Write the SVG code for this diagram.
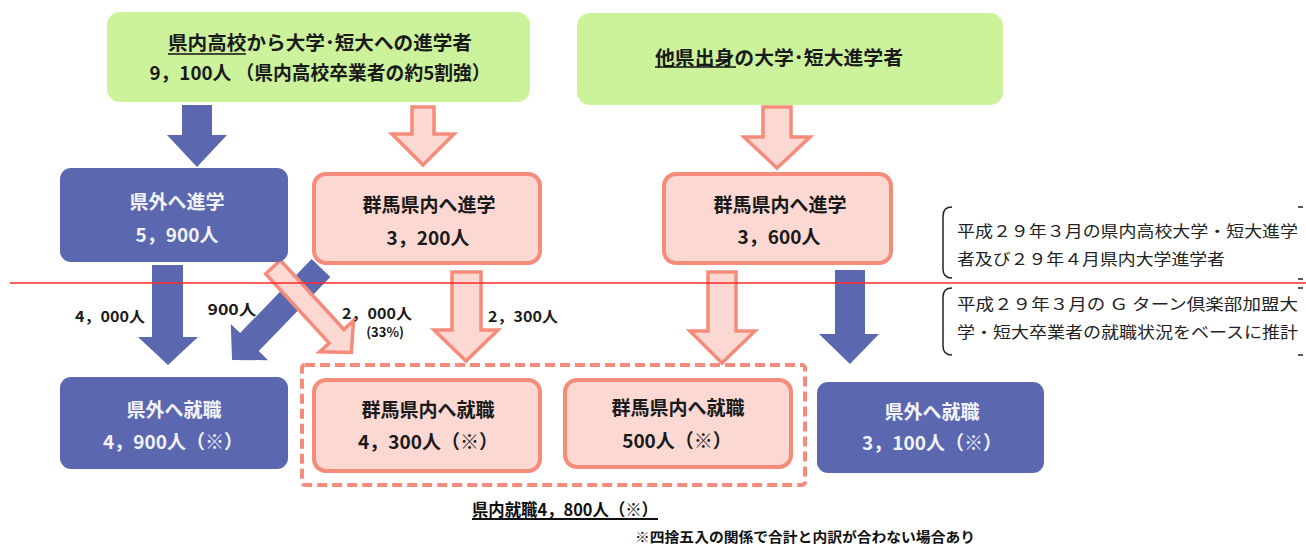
<svg xmlns="http://www.w3.org/2000/svg" width="1306" height="546" viewBox="0 0 1306 546">
<style>
text{font-family:"Noto Sans CJK JP","Noto Sans",sans-serif;}
.g{fill:#CCF29B;}
.b{fill:#5B68B0;}
.p{fill:#FCD8D2;stroke:#F58C7B;stroke-width:4;}
.pa{fill:#FCD8D2;stroke:#F58C7B;stroke-width:3.5;stroke-linejoin:miter;}
.t{font-size:19px;font-weight:bold;fill:#1A1A1A;text-anchor:middle;}
.w{font-size:19px;font-weight:bold;fill:#F2F2FA;text-anchor:middle;}
.l{font-size:15px;font-weight:bold;fill:#1A1A1A;text-anchor:middle;}
.n{font-size:15.5px;fill:#222;}
.ul{stroke:#111;stroke-width:1.6;}
.br{fill:none;stroke:#222;stroke-width:1.5;}
</style>
<rect width="1306" height="546" fill="#FFFFFF"/>
<g id="connectors">
  <path class="b" d="M182,105 H212 V135 H227 L197,167 L167,135 H182 Z"/>
  <path class="pa" d="M412,107 H434 V134 H454 L423,165 L392,134 H412 Z"/>
  <path class="pa" d="M763,107 H791 V137 H810 L777,168 L744,137 H763 Z"/>
  <path class="b" d="M152,265 H183 V337 H198 L168,365 L138,337 H152 Z"/>
  <path class="b" transform="translate(321,268) rotate(134)" d="M0,-13 H103 V-26 L128,0 L103,26 V13 H0 Z"/>
  <path class="pa" transform="translate(273,267) rotate(47.5)" d="M0,-10 H94 V-23 L116,0 L94,23 V10 H0 Z"/>
  <path class="pa" d="M452,272 H481 V330 H498 L466,361 L434,330 H452 Z"/>
  <path class="pa" d="M708,272 H736 V331 H755 L722,363 L690,331 H708 Z"/>
  <path class="b" d="M835,270 H865 V334 H879 L850,364 L819,334 H835 Z"/>
  <text class="l" x="110" y="322" textLength="70" lengthAdjust="spacingAndGlyphs">4，000人</text>
  <text class="l" x="232" y="315" textLength="49" lengthAdjust="spacingAndGlyphs">900人</text>
  <text class="l" x="377" y="319" textLength="70" lengthAdjust="spacingAndGlyphs">2，000人</text>
  <text class="l" x="385" y="337" style="font-size:13px">(33%)</text>
  <text class="l" x="523" y="322" textLength="70" lengthAdjust="spacingAndGlyphs">2，300人</text>
</g>
<g id="node-top-left">
  <rect class="g" x="107" y="12" width="423" height="90" rx="13"/>
  <text class="t" x="320" y="50" textLength="304" lengthAdjust="spacingAndGlyphs">県内高校から大学･短大への進学者</text>
  <line class="ul" x1="168" y1="54" x2="246" y2="54"/>
  <text class="t" x="320" y="80" textLength="341" lengthAdjust="spacingAndGlyphs">9，100人 （県内高校卒業者の約5割強）</text>
</g>
<g id="node-top-right">
  <rect class="g" x="577" y="13" width="426" height="92" rx="13"/>
  <text class="t" x="779" y="65" textLength="248" lengthAdjust="spacingAndGlyphs">他県出身の大学･短大進学者</text>
  <line class="ul" x1="655" y1="67" x2="736" y2="67"/>
</g>
<g id="node-out-study">
  <rect class="b" x="60" y="168" width="228" height="94" rx="11"/>
  <text class="w" x="177" y="209">県外へ進学</text>
  <text class="w" x="177" y="242">5，900人</text>
</g>
<g id="node-in-study-1">
  <rect class="p" x="314" y="174" width="226" height="89" rx="12"/>
  <text class="t" x="429" y="212">群馬県内へ進学</text>
  <text class="t" x="428" y="245">3，200人</text>
</g>
<g id="node-in-study-2">
  <rect class="p" x="664" y="174" width="227" height="89" rx="12"/>
  <text class="t" x="780" y="212">群馬県内へ進学</text>
  <text class="t" x="779" y="244">3，600人</text>
</g>
<g id="node-in-job-group">
  <rect x="302" y="365" width="503" height="120" rx="3" fill="none" stroke="#F58C7B" stroke-width="4" stroke-dasharray="10 5"/>
  <text x="565" y="516" style="font-size:17px;font-weight:bold;fill:#111;text-anchor:middle" textLength="186" lengthAdjust="spacingAndGlyphs">県内就職4，800人（※）</text>
  <line class="ul" x1="472" y1="519" x2="658" y2="519" style="stroke-width:2"/>
</g>
<g id="node-out-job-1">
  <rect class="b" x="60" y="377" width="228" height="92" rx="11"/>
  <text class="w" x="174" y="417">県外へ就職</text>
  <text class="w" x="173" y="449">4，900人（※）</text>
</g>
<g id="node-in-job-1">
  <rect class="p" x="314" y="380" width="226" height="91" rx="12"/>
  <text class="t" x="428" y="417">群馬県内へ就職</text>
  <text class="t" x="428" y="449">4，300人（※）</text>
</g>
<g id="node-in-job-2">
  <rect class="p" x="565" y="380" width="226" height="87" rx="12"/>
  <text class="t" x="678" y="415">群馬県内へ就職</text>
  <text class="t" x="677" y="448">500人（※）</text>
</g>
<g id="node-out-job-2">
  <rect class="b" x="817" y="382" width="227" height="91" rx="11"/>
  <text class="w" x="932" y="419">県外へ就職</text>
  <text class="w" x="932" y="450">3，100人（※）</text>
</g>
<g id="note">
  <path class="br" d="M952,207 Q943,207 943,216 V269 Q943,278 952,278"/>
  <path class="br" d="M952,288 Q943,288 943,297 V346 Q943,355 952,355"/>
  <path class="br" d="M1298,207 H1303 M1298,279 H1303 M1298,288 H1303 M1298,355 H1303"/>
  <text class="n" x="957" y="237" textLength="341" lengthAdjust="spacingAndGlyphs">平成２９年３月の県内高校大学・短大進学</text>
  <text class="n" x="957" y="265" textLength="268" lengthAdjust="spacingAndGlyphs">者及び２９年４月県内大学進学者</text>
  <text class="n" x="957" y="310" textLength="341" lengthAdjust="spacingAndGlyphs">平成２９年３月の Ｇ ターン倶楽部加盟大</text>
  <text class="n" x="957" y="338" textLength="341" lengthAdjust="spacingAndGlyphs">学・短大卒業者の就職状況をベースに推計</text>
</g>
<text x="805" y="542" style="font-size:14px;font-weight:bold;fill:#111;text-anchor:middle" textLength="340" lengthAdjust="spacingAndGlyphs">※四捨五入の関係で合計と内訳が合わない場合あり</text>
<line x1="10" y1="283" x2="1306" y2="283" stroke="#FF2A2A" stroke-width="1.5"/>
</svg>
